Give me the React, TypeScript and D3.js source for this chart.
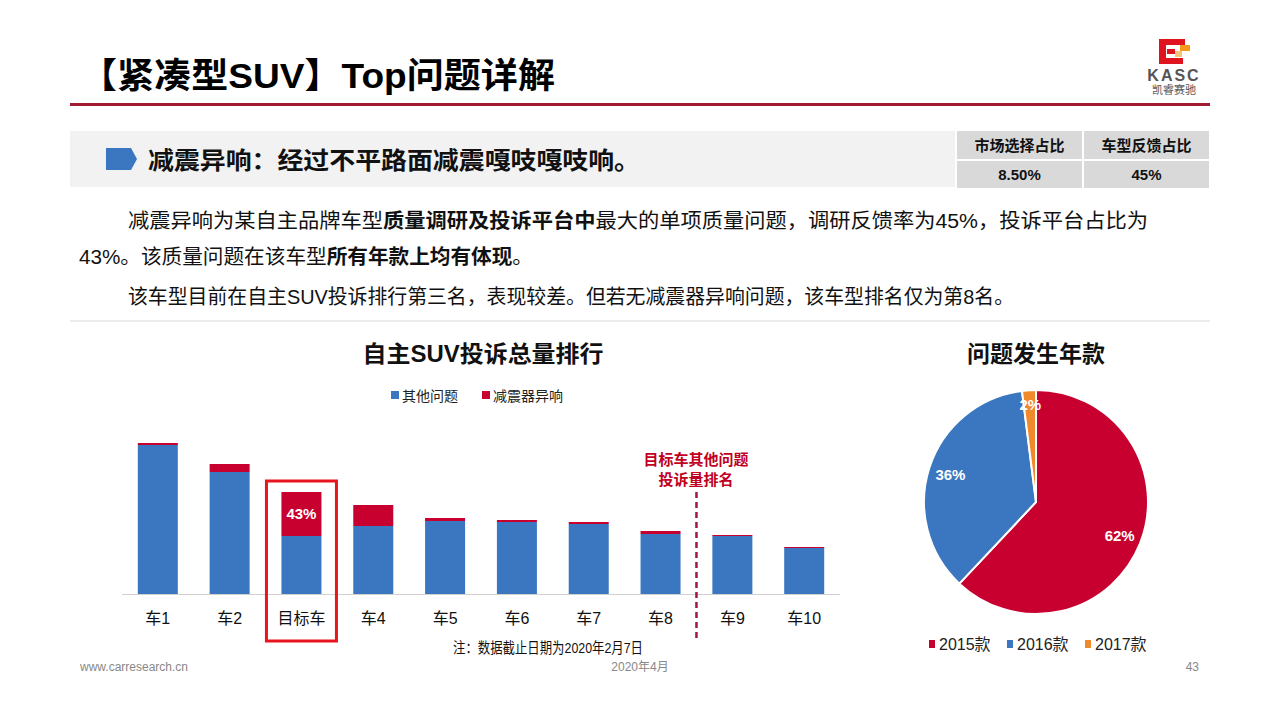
import * as d3 from "d3";

const cars = ["车1", "车2", "目标车", "车4", "车5", "车6", "车7", "车8", "车9", "车10"];
const otherIssues = [149, 122, 58, 68, 73, 72, 70, 60, 58, 46];
const shockNoise = [2, 8, 44, 21, 3, 2, 2, 3, 1, 1];
const barSeries = ["其他问题", "减震器异响"];

const years = ["2015款", "2016款", "2017款"];
const yearShares = [62, 36, 2];

const tableHead = ["市场选择占比", "车型反馈占比"];
const tableVals = ["8.50%", "45%"];

const BLUE = "#3b77c0";
const RED = "#c8002f";
const ORANGE = "#f0892c";
const FONT = "'Liberation Sans', 'Noto Sans CJK SC', sans-serif";

export default function App() {
  // bar chart scales
  const x = d3.scaleBand<string>().domain(cars).range([122, 840]).paddingInner(0.443).paddingOuter(0.22);
  const y = d3.scaleLinear().domain([0, 150]).range([594, 444]);

  const stacked = cars.map((c, i) => ({ car: c, other: otherIssues[i], shock: shockNoise[i] }));
  const stack = d3.stack<any>().keys(["other", "shock"])(stacked);
  const barColors = [BLUE, RED];

  // pie
  const cx = 1036, cy = 502, r = 112;
  const pie = d3.pie<number>().sort(null).value((d) => d)(yearShares);
  const arc = d3.arc<d3.PieArcDatum<number>>().innerRadius(0).outerRadius(r);
  const labelArc = d3.arc<d3.PieArcDatum<number>>().innerRadius(90).outerRadius(90);
  const pieColors = [RED, BLUE, ORANGE];

  const target = x("目标车")!;
  const targetIdx = cars.indexOf("目标车");
  const divX = (x("车8")! + x.bandwidth() + x("车9")!) / 2;

  return (
    <svg width={1280} height={720} style={{ position: "absolute", left: 0, top: 0, background: "#fff" }} fontFamily={FONT}>
      {/* header */}
      <text x={80} y={88} fontSize={35} fontWeight="bold" fill="#000" textLength={475} lengthAdjust="spacingAndGlyphs">【紧凑型SUV】Top问题详解</text>
      <rect x={70} y={103} width={1140} height={3} fill="#a3192f" />

      {/* logo */}
      <g>
        <rect x={1159} y={39} width={26} height={6} fill="#e0141e" />
        <rect x={1159} y={39} width={7} height={25} fill="#e0141e" />
        <rect x={1159} y={58} width={24} height={6} fill="#e0141e" />
        <rect x={1167} y={49} width={8} height={5} fill="#e0141e" />
        <rect x={1180} y={45} width={10} height={6} fill="#f39a1e" />
        <rect x={1175} y={51} width={7} height={6} fill="#f7c37a" />
        <text x={1174} y={81} fontSize={16} fontWeight="bold" fill="#555" textAnchor="middle" fontFamily="'Liberation Sans', sans-serif" letterSpacing={2}>KASC</text>
        <text x={1174} y={94} fontSize={11} fill="#555" textAnchor="middle">凯睿赛驰</text>
      </g>

      {/* grey banner */}
      <rect x={70} y={131} width={885} height={56} fill="#f2f2f2" />
      <path d="M106,148 L131,148 L137,159 L131,170 L106,170 Z" fill={BLUE} />
      <text x={148} y={169} fontSize={24} fontWeight="bold" fill="#111" textLength={492} lengthAdjust="spacingAndGlyphs">减震异响：经过不平路面减震嘎吱嘎吱响。</text>

      {/* small table */}
      {tableHead.map((h, i) => (
        <g key={h}>
          <rect x={957 + i * 127} y={131} width={125} height={28} fill="#d9d9d9" />
          <rect x={957 + i * 127} y={161} width={125} height={27} fill="#d9d9d9" />
          <text x={1019.5 + i * 127} y={151} fontSize={15} fontWeight="bold" textAnchor="middle" fill="#111">{h}</text>
          <text x={1019.5 + i * 127} y={180} fontSize={15} fontWeight="bold" textAnchor="middle" fill="#111">{tableVals[i]}</text>
        </g>
      ))}

      {/* body text */}
      <text x={128} y={228} fontSize={20} fill="#111" textLength={1020} lengthAdjust="spacingAndGlyphs">
        减震异响为某自主品牌车型<tspan fontWeight="bold">质量调研及投诉平台中</tspan>最大的单项质量问题，调研反馈率为45%，投诉平台占比为
      </text>
      <text x={79} y={264} fontSize={20} fill="#111" textLength={454} lengthAdjust="spacingAndGlyphs">
        43%。该质量问题在该车型<tspan fontWeight="bold">所有年款上均有体现</tspan>。
      </text>
      <text x={128} y={304} fontSize={20} fill="#111" textLength={886} lengthAdjust="spacingAndGlyphs">该车型目前在自主SUV投诉排行第三名，表现较差。但若无减震器异响问题，该车型排名仅为第8名。</text>
      <line x1={70} x2={1210} y1={321} y2={321} stroke="#d9d9d9" />

      {/* bar chart */}
      <text x={483} y={362} fontSize={23} fontWeight="bold" textAnchor="middle" fill="#111" textLength={241} lengthAdjust="spacingAndGlyphs">自主SUV投诉总量排行</text>
      {barSeries.map((s, i) => (
        <g key={s}>
          <rect x={391 + i * 91} y={391} width={8} height={8} fill={barColors[i]} />
          <text x={402 + i * 91} y={401} fontSize={14} fill="#222">{s}</text>
        </g>
      ))}
      {stack.map((layer, li) => (
        <g key={li} fill={barColors[li]}>
          {layer.map((d: any) => (
            <rect key={d.data.car} x={x(d.data.car)} y={y(d[1])} width={x.bandwidth()} height={y(d[0]) - y(d[1])} />
          ))}
        </g>
      ))}
      <line x1={122} x2={840} y1={594.5} y2={594.5} stroke="#d0d0d0" />
      {cars.map((c) => (
        <text key={c} x={x(c)! + x.bandwidth() / 2} y={624} fontSize={16} textAnchor="middle" fill="#111">{c}</text>
      ))}
      <text
        x={target + x.bandwidth() / 2}
        y={(y(otherIssues[targetIdx]) + y(otherIssues[targetIdx] + shockNoise[targetIdx])) / 2 + 5}
        fontSize={15}
        fontWeight="bold"
        fill="#fff"
        textAnchor="middle"
      >
        {Math.round((shockNoise[targetIdx] / (otherIssues[targetIdx] + shockNoise[targetIdx])) * 100)}%
      </text>
      <rect x={target - 15} y={481} width={x.bandwidth() + 30} height={160} fill="none" stroke="#e8141e" strokeWidth={3} />
      {/* rank divider between 车8 and 车9 */}
      <line x1={divX} x2={divX} y1={492} y2={640} stroke="#a3173d" strokeWidth={2.5} strokeDasharray="6,4" />
      <text x={696} y={465} fontSize={15} fontWeight="bold" textAnchor="middle" fill="#c0001e">目标车其他问题</text>
      <text x={696} y={485} fontSize={15} fontWeight="bold" textAnchor="middle" fill="#c0001e">投诉量排名</text>
      <text x={548} y={653} fontSize={15} textAnchor="middle" fill="#111" textLength={190} lengthAdjust="spacingAndGlyphs">注：数据截止日期为2020年2月7日</text>

      {/* pie */}
      <text x={1036} y={362} fontSize={23} fontWeight="bold" textAnchor="middle" fill="#111">问题发生年款</text>
      <g transform={`translate(${cx},${cy})`}>
        {pie.map((p, i) => (
          <path key={i} d={arc(p)!} fill={pieColors[i]} stroke="#fff" strokeWidth={2} />
        ))}
        {pie.map((p, i) => {
          const [lx, ly] = labelArc.centroid(p);
          return (
            <text key={i} x={lx} y={ly + (i === 2 ? -2 : 6)} fontSize={15} fontWeight="bold" fill="#fff" textAnchor="middle">
              {p.data}%
            </text>
          );
        })}
      </g>
      {years.map((yr, i) => (
        <g key={yr}>
          <rect x={929 + i * 78} y={640} width={6} height={8} fill={pieColors[i]} />
          <text x={939 + i * 78} y={650} fontSize={16} fill="#222">{yr}</text>
        </g>
      ))}

      {/* footer */}
      <text x={80} y={671} fontSize={12} fill="#888">www.carresearch.cn</text>
      <text x={640} y={671} fontSize={12} fill="#888" textAnchor="middle">2020年4月</text>
      <text x={1199} y={671} fontSize={12} fill="#888" textAnchor="end">43</text>
    </svg>
  );
}
